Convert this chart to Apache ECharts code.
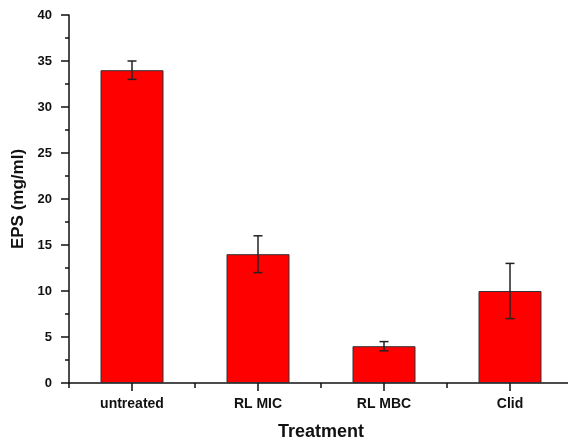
<!DOCTYPE html>
<html>
<head>
<meta charset="utf-8">
<script src="https://cdn.jsdelivr.net/npm/echarts@6/dist/echarts.min.js"></script>
<style>
html,body{margin:0;padding:0;background:#fff;}
#c{width:568px;height:441px;}
</style>
</head>
<body>
<div id="c"></div>
<script>
var categories = ['untreated', 'RL MIC', 'RL MBC', 'Clid'];
var means = [34, 14, 4, 10];
var errors = [1, 2, 0.5, 3];
var yMin = 0, yMax = 40, yStep = 5;

var chart = echarts.init(document.getElementById('c'), null, {renderer: 'canvas'});
var font = 'Liberation Sans, Arial, sans-serif';
var errData = categories.map(function (c, i) { return [i, means[i] - errors[i], means[i] + errors[i]]; });

chart.setOption({
  animation: false,
  backgroundColor: '#ffffff',
  grid: {left: 69, right: -5, top: 15, bottom: 58, containLabel: false, outerBoundsMode: 'none'},
  xAxis: [{
    type: 'category',
    data: categories,
    name: 'Treatment',
    nameLocation: 'middle',
    nameGap: 40,
    nameTextStyle: {fontFamily: font, fontWeight: 'bold', fontSize: 18, color: '#111'},
    axisLine: {lineStyle: {color: '#111', width: 1.5}},
    axisTick: {show: true, alignWithLabel: true, inside: false, length: 8, lineStyle: {color: '#111', width: 1.5}},
    axisLabel: {fontFamily: font, fontWeight: 'bold', fontSize: 14, color: '#111', margin: 14},
    splitLine: {show: false}
  }, {
    type: 'value',
    min: 0, max: 4, interval: 1,
    position: 'bottom',
    axisLine: {show: false},
    axisTick: {show: true, length: 5, lineStyle: {color: '#111', width: 1.5}},
    axisLabel: {show: false},
    splitLine: {show: false}
  }],
  yAxis: {
    type: 'value',
    min: yMin, max: yMax, interval: yStep,
    name: 'EPS (mg/ml)',
    nameLocation: 'middle',
    nameGap: 35,
    nameTextStyle: {fontFamily: font, fontWeight: 'bold', fontSize: 17, color: '#111'},
    axisLine: {show: true, lineStyle: {color: '#111', width: 1.5}},
    axisTick: {show: true, length: 8, lineStyle: {color: '#111', width: 1.5}},
    minorTick: {show: true, splitNumber: 2, length: 4, lineStyle: {color: '#111', width: 1.5}},
    axisLabel: {fontFamily: font, fontWeight: 'bold', fontSize: 13, color: '#111', margin: 17},
    splitLine: {show: false}
  },
  series: [{
    type: 'bar',
    data: means,
    barWidth: '50%',
    itemStyle: {color: '#ff0000', borderColor: '#333', borderWidth: 1}
  }, {
    type: 'custom',
    data: errData,
    z: 10,
    renderItem: function (params, api) {
      var x = api.value(0);
      var lo = api.coord([x, api.value(1)]);
      var hi = api.coord([x, api.value(2)]);
      var hw = 4.5;
      var st = {stroke: '#222', lineWidth: 1.5};
      return {
        type: 'group',
        children: [
          {type: 'line', shape: {x1: lo[0], y1: lo[1], x2: hi[0], y2: hi[1]}, style: st},
          {type: 'line', shape: {x1: lo[0] - hw, y1: lo[1], x2: lo[0] + hw, y2: lo[1]}, style: st},
          {type: 'line', shape: {x1: hi[0] - hw, y1: hi[1], x2: hi[0] + hw, y2: hi[1]}, style: st}
        ]
      };
    }
  }]
});
</script>
</body>
</html>
